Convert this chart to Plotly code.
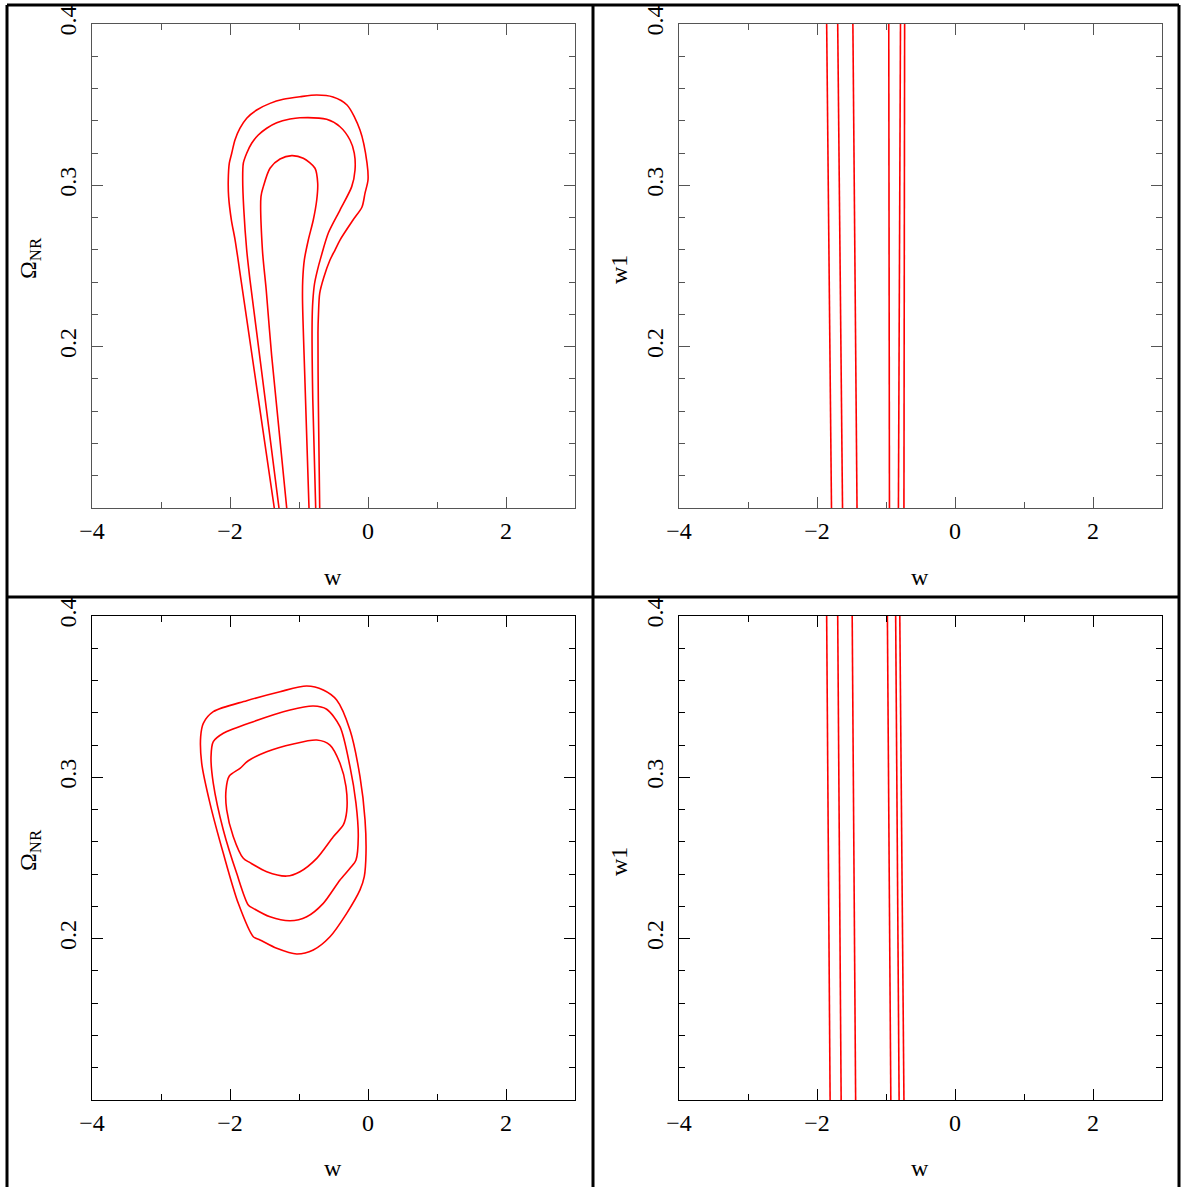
import plotly.graph_objects as go

W, H = 1182, 1187

# ---------------- data ----------------
# top-left panel: three contours (w vs Omega_NR), open at the bottom edge
tl_outer_w = [-1.358, -1.840, -1.926, -1.980, -2.020, -2.025, -2.010, -1.975, -1.928, -1.855, -1.758, -1.613,
              -1.420, -1.228, -0.986, -0.743, -0.507, -0.304, -0.116, -0.014, 0.000, -0.043, -0.087, -0.217,
              -0.406, -0.478, -0.551, -0.640, -0.700, -0.718, -0.725, -0.720, -0.700]
tl_outer_om = [0.100, 0.2413, 0.2661, 0.2785, 0.2930, 0.3033, 0.3137, 0.3199, 0.3281, 0.3354, 0.3416, 0.3467,
               0.3508, 0.3533, 0.3549, 0.3560, 0.3548, 0.3498, 0.3343, 0.3138, 0.3033, 0.2952, 0.2866, 0.2785,
               0.2661, 0.2599, 0.2537, 0.2430, 0.2330, 0.2200, 0.2085, 0.1670, 0.100]
tl_mid_w = [-1.290, -1.710, -1.758, -1.800, -1.816, -1.807, -1.758, -1.686, -1.590, -1.468, -1.323, -1.130,
            -0.986, -0.599, -0.406, -0.261, -0.199, -0.188, -0.236, -0.406, -0.575, -0.680, -0.735, -0.775,
            -0.800, -0.810, -0.800, -0.758]
tl_mid_om = [0.100, 0.2413, 0.2599, 0.2850, 0.3033, 0.3137, 0.3199, 0.3261, 0.3312, 0.3354, 0.3388, 0.3411,
             0.3419, 0.3409, 0.3363, 0.3281, 0.3200, 0.3095, 0.2992, 0.2847, 0.2705, 0.2558, 0.2470, 0.2390,
             0.2280, 0.2150, 0.1670, 0.100]
tl_in_w = [-1.178, -1.397, -1.475, -1.530, -1.551, -1.517, -1.420, -1.275, -1.106, -0.938, -0.768, -0.729, -0.743,
           -0.793, -0.865, -0.923, -0.946, -0.949, -0.913, -0.855]
tl_in_om = [0.100, 0.1948, 0.2351, 0.2599, 0.2930, 0.2992, 0.3106, 0.3163, 0.3184, 0.3168, 0.3106, 0.3013, 0.2909,
            0.2785, 0.2661, 0.2537, 0.2413, 0.2289, 0.1775, 0.100]

# bottom-left panel: three closed contours
bl_outer_w = [-2.242, -2.387, -2.425, -2.410, -2.290, -2.097, -1.880, -1.662, -1.565, -1.323, -1.033, -0.793,
              -0.551, -0.309, -0.116, -0.054, -0.029, -0.043, -0.116, -0.261, -0.454, -0.648, -0.888, -1.275, -1.758]
bl_outer_om = [0.3407, 0.3335, 0.3252, 0.3087, 0.2839, 0.2529, 0.2219, 0.2012, 0.1992, 0.1940, 0.1905, 0.1930,
               0.2012, 0.2157, 0.2302, 0.2384, 0.2529, 0.2736, 0.3004, 0.3293, 0.3479, 0.3541, 0.3566, 0.3531, 0.3475]
bl_mid_w = [-2.097, -2.242, -2.275, -2.242, -2.097, -1.903, -1.735, -1.662, -1.420, -1.130, -0.888, -0.648,
            -0.406, -0.261, -0.174, -0.141, -0.174, -0.261, -0.406, -0.599, -0.793, -1.130, -1.662]
bl_mid_om = [0.3273, 0.3221, 0.3128, 0.2963, 0.2674, 0.2405, 0.2209, 0.2188, 0.2136, 0.2111, 0.2136, 0.2219,
             0.2364, 0.2436, 0.2488, 0.2632, 0.2839, 0.3066, 0.3314, 0.3422, 0.3442, 0.3417, 0.3345]
bl_in_w = [-2.010, -2.058, -2.048, -1.952, -1.807, -1.710, -1.468, -1.178, -0.986, -0.743, -0.503, -0.358,
           -0.309, -0.319, -0.406, -0.551, -0.743, -1.083, -1.468, -1.735, -1.855]
bl_in_om = [0.3008, 0.2921, 0.2798, 0.2632, 0.2498, 0.2471, 0.2415, 0.2388, 0.2415, 0.2498, 0.2632, 0.2705,
            0.2787, 0.2942, 0.3087, 0.3200, 0.3231, 0.3207, 0.3159, 0.3103, 0.3056]

# right panels: near-vertical contour lines (w at top edge / bottom edge)
w1_edges = [0.4, 0.1]
tr_w_top = [-1.86, -1.70, -1.48, -0.96, -0.79, -0.73]
tr_w_bot = [-1.79, -1.63, -1.42, -0.95, -0.82, -0.74]
br_w_top = [-1.86, -1.70, -1.49, -0.98, -0.86, -0.80]
br_w_bot = [-1.81, -1.65, -1.44, -0.93, -0.81, -0.74]

x_range = [-4, 3]
y_range = [0.1, 0.4]
y_tickvals = [0.2, 0.3, 0.4]
y_ticktext = ["0.2", "0.3", "0.4"]
y_minor = [0.12, 0.14, 0.16, 0.18, 0.22, 0.24, 0.26, 0.28, 0.32, 0.34, 0.36, 0.38]
x_minor = [-3, -1, 1, 3]

# ---------------- figure ----------------
RED = "#ff0000"
LW = 1.6
fig = go.Figure()


def add_line(x, y, ax, closed=False):
    if closed:
        x = list(x) + [x[0]]
        y = list(y) + [y[0]]
    fig.add_trace(go.Scatter(x=x, y=y, mode="lines", xaxis="x" + ax, yaxis="y" + ax,
                             line=dict(color=RED, width=LW, shape="spline", smoothing=0.8),
                             showlegend=False, hoverinfo="skip"))


add_line(tl_outer_w, tl_outer_om, "")
add_line(tl_mid_w, tl_mid_om, "")
add_line(tl_in_w, tl_in_om, "")
add_line(bl_outer_w, bl_outer_om, "3", closed=True)
add_line(bl_mid_w, bl_mid_om, "3", closed=True)
add_line(bl_in_w, bl_in_om, "3", closed=True)
for a, b in zip(tr_w_top, tr_w_bot):
    fig.add_trace(go.Scatter(x=[a, b], y=w1_edges, mode="lines", xaxis="x2", yaxis="y2",
                             line=dict(color=RED, width=LW), showlegend=False, hoverinfo="skip"))
for a, b in zip(br_w_top, br_w_bot):
    fig.add_trace(go.Scatter(x=[a, b], y=w1_edges, mode="lines", xaxis="x4", yaxis="y4",
                             line=dict(color=RED, width=LW), showlegend=False, hoverinfo="skip"))

FONT = dict(family="Liberation Serif", size=24, color="black")

xdoms = [[92 / W, 575 / W], [679 / W, 1162 / W]]
ydoms = [[1 - 508 / H, 1 - 24 / H], [1 - 1100 / H, 1 - 616 / H]]


def xaxis(dom, anchor, lc):
    return dict(domain=dom, anchor=anchor, range=x_range, showgrid=False, zeroline=False,
                automargin=False,
                showline=True, linecolor=lc, linewidth=1, mirror="ticks",
                ticks="inside", ticklen=11, tickcolor=lc, tickwidth=1,
                tickmode="linear", tick0=-4, dtick=2, tickfont=FONT, ticklabelstandoff=1,
                minor=dict(tickmode="array", tickvals=x_minor, ticks="inside", ticklen=6,
                           tickcolor=lc, tickwidth=1, showgrid=False))


def yaxis(dom, anchor, lc):
    return dict(domain=dom, anchor=anchor, range=y_range, showgrid=False, zeroline=False,
                automargin=False,
                showline=True, linecolor=lc, linewidth=1, mirror="ticks",
                ticks="inside", ticklen=11, tickcolor=lc, tickwidth=1,
                tickmode="array", tickvals=y_tickvals, ticktext=y_ticktext, tickangle=-90,
                tickfont=FONT, ticklabelstandoff=5,
                minor=dict(tickmode="array", tickvals=y_minor, ticks="inside", ticklen=6,
                           tickcolor=lc, tickwidth=1, showgrid=False))


TOPC = "#555555"
BOTC = "#000000"
fig.update_layout(
    width=W, height=H, autosize=False,
    margin=dict(l=0, r=0, t=0, b=0, pad=0),
    paper_bgcolor="white", plot_bgcolor="white",
    xaxis=xaxis(xdoms[0], "y", TOPC), yaxis=yaxis(ydoms[0], "x", TOPC),
    xaxis2=xaxis(xdoms[1], "y2", TOPC), yaxis2=yaxis(ydoms[0], "x2", TOPC),
    xaxis3=xaxis(xdoms[0], "y3", BOTC), yaxis3=yaxis(ydoms[1], "x3", BOTC),
    xaxis4=xaxis(xdoms[1], "y4", BOTC), yaxis4=yaxis(ydoms[1], "x4", BOTC),
)

TFONT = dict(family="Liberation Serif", size=24, color="black")
ann = []
for (xc, yc) in [(333, 577), (920, 577), (333, 1168), (920, 1168)]:
    ann.append(dict(x=xc / W, y=1 - yc / H, xref="paper", yref="paper", text="w", showarrow=False,
                    font=TFONT, xanchor="center", yanchor="middle"))
for yc in [258, 850]:
    ann.append(dict(x=30 / W, y=1 - yc / H, xref="paper", yref="paper", text="Ω<sub>NR</sub>",
                    showarrow=False, font=TFONT, textangle=-90, xanchor="center", yanchor="middle"))
    ann.append(dict(x=619 / W, y=1 - (yc + 12) / H, xref="paper", yref="paper", text="w1",
                    showarrow=False, font=TFONT, textangle=-90, xanchor="center", yanchor="middle"))
fig.update_layout(annotations=ann)

# panel frame lines
shapes = []
LWF = 3
for (x0, y0, x1, y1) in [(7, 5, 1179, 5), (7, 5, 7, 1190), (1179, 5, 1179, 1190),
                         (593, 5, 593, 1190), (7, 597, 1179, 597)]:
    shapes.append(dict(type="line", xref="paper", yref="paper", x0=x0 / W, x1=x1 / W,
                       y0=1 - y0 / H, y1=1 - y1 / H, line=dict(color="black", width=LWF), layer="above"))
fig.update_layout(shapes=shapes)

fig.write_html("out.html")
